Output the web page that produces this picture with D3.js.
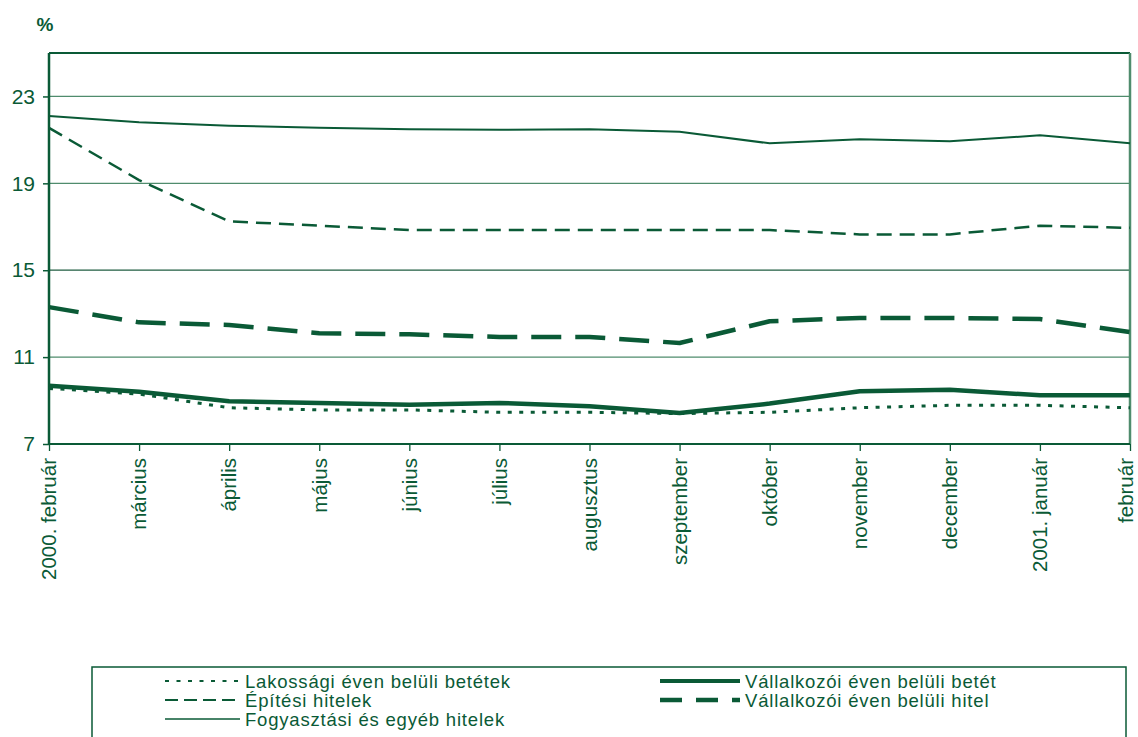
<!DOCTYPE html>
<html>
<head>
<meta charset="utf-8">
<script src="https://cdn.jsdelivr.net/npm/d3@7"></script>
<style>
  html, body { margin: 0; padding: 0; background: #fff; }
  svg { display: block; font-family: "Liberation Sans", Arial, sans-serif; }
</style>
</head>
<body>
<svg id="chart" width="1138" height="737"></svg>
<script>
const months = ["2000. február", "március", "április", "május", "június", "július",
  "augusztus", "szeptember", "október", "november", "december", "2001. január", "február"];

const lakossagi = [9.56, 9.3, 8.67, 8.57, 8.57, 8.46, 8.46, 8.4, 8.46, 8.67, 8.78, 8.78, 8.67];
const epitesi = [21.55, 19.15, 17.25, 17.05, 16.85, 16.85, 16.85, 16.85, 16.85, 16.65, 16.65, 17.05, 16.95];
const fogyasztasi = [22.1, 21.81, 21.65, 21.56, 21.49, 21.47, 21.49, 21.38, 20.84, 21.03, 20.94, 21.21, 20.84];
const vallBetet = [9.68, 9.41, 8.97, 8.89, 8.81, 8.89, 8.74, 8.43, 8.86, 9.43, 9.5, 9.24, 9.24];
const vallHitel = [13.3, 12.6, 12.48, 12.1, 12.05, 11.93, 11.93, 11.65, 12.65, 12.8, 12.8, 12.75, 12.15];

const yTicks = [7, 11, 15, 19, 23];
const yDomain = [7, 25];

const green = "#0a5a36";
const gridColor = "#4f8c6d";

const svg = d3.select("#chart");
const mLeft = 49, mRight = 1130, mTop = 53, mBottom = 444;

const x = d3.scalePoint().domain(months).range([mLeft, mRight]);
const y = d3.scaleLinear().domain(yDomain).range([mBottom, mTop]);

// gridlines
svg.append("g").selectAll("line").data(yTicks.filter(d => d > 7)).join("line")
  .attr("x1", mLeft).attr("x2", mRight)
  .attr("y1", d => y(d)).attr("y2", d => y(d))
  .attr("stroke", d => d === 15 ? "#1f5c40" : gridColor).attr("stroke-width", 1.3);

// frame top/right
svg.append("line").attr("x1", mLeft).attr("x2", mRight).attr("y1", mTop).attr("y2", mTop)
  .attr("stroke", green).attr("stroke-width", 2);
svg.append("line").attr("x1", mRight).attr("x2", mRight).attr("y1", mTop).attr("y2", mBottom)
  .attr("stroke", gridColor).attr("stroke-width", 2.5);

// y axis
const yAxis = d3.axisLeft(y).tickValues(yTicks).tickSize(6).tickPadding(8).tickFormat(d3.format("d"));
const gy = svg.append("g").attr("transform", `translate(${mLeft},0)`).call(yAxis);
gy.select(".domain").attr("stroke", green).attr("stroke-width", 2.5).attr("d", `M0,${mTop}V${mBottom}`);
gy.selectAll(".tick line").attr("stroke", green).attr("stroke-width", 1.5);
gy.selectAll(".tick text").attr("fill", green).attr("font-size", 21)
  .attr("font-family", "Liberation Sans, Arial, sans-serif");

// x axis
const xAxis = d3.axisBottom(x).tickSize(7).tickPadding(8);
const gx = svg.append("g").attr("transform", `translate(0,${mBottom})`).call(xAxis);
gx.select(".domain").attr("stroke", green).attr("stroke-width", 2).attr("d", `M${mLeft},0H${mRight}`);
gx.selectAll(".tick line").attr("stroke", green).attr("stroke-width", 1.3);
gx.selectAll(".tick text")
  .attr("fill", green).attr("font-size", 20.5)
  .attr("font-family", "Liberation Sans, Arial, sans-serif")
  .attr("text-anchor", "end")
  .attr("transform", "rotate(-90)")
  .attr("x", -14).attr("y", (d, i) => i === months.length - 1 ? -4 : 0).attr("dy", "0.33em");

// "%" label
svg.append("text").attr("x", 45).attr("y", 31).attr("text-anchor", "middle")
  .attr("font-size", 19).attr("font-weight", "bold").attr("fill", green).text("%");

const series = [
  { name: "Lakossági éven belüli betétek", values: lakossagi, width: 3, dash: "4,7.5" },
  { name: "Építési hitelek", values: epitesi, width: 2.5, dash: "15,8" },
  { name: "Fogyasztási és egyéb hitelek", values: fogyasztasi, width: 2, dash: null },
  { name: "Vállalkozói éven belüli betét", values: vallBetet, width: 4.5, dash: null },
  { name: "Vállalkozói éven belüli hitel", values: vallHitel, width: 4.5, dash: "30,14" }
];

const line = d3.line().x((d, i) => x(months[i])).y(d => y(d));

svg.append("g").selectAll("path").data(series).join("path")
  .attr("d", s => line(s.values))
  .attr("fill", "none").attr("stroke", green)
  .attr("stroke-width", s => s.width)
  .attr("stroke-dasharray", s => s.dash)
  .attr("stroke-linejoin", "round");

// legend
const lg = svg.append("g");
lg.append("rect").attr("x", 92).attr("y", 667).attr("width", 1034).attr("height", 90)
  .attr("fill", "none").attr("stroke", green).attr("stroke-width", 1.5);

const legendPos = [
  { s: series[0], x1: 165, x2: 240, tx: 245, cy: 681 },
  { s: series[1], x1: 165, x2: 240, tx: 245, cy: 700 },
  { s: series[2], x1: 165, x2: 240, tx: 245, cy: 719 },
  { s: series[3], x1: 660, x2: 740, tx: 745, cy: 681 },
  { s: series[4], x1: 660, x2: 740, tx: 745, cy: 700 }
];
const legendDash = ["4,7.5", "13,6", null, null, "22,14"];
const legendWidth = [2, 2, 1.5, 4, 4.5];

legendPos.forEach((p, i) => {
  lg.append("line").attr("x1", p.x1).attr("x2", p.x2).attr("y1", p.cy).attr("y2", p.cy)
    .attr("stroke", green).attr("stroke-width", legendWidth[i])
    .attr("stroke-dasharray", legendDash[i]);
  lg.append("text").attr("x", p.tx).attr("y", p.cy).attr("dy", "0.36em")
    .attr("font-size", 18.5).attr("letter-spacing", 0.8).attr("fill", green).text(p.s.name);
});
</script>
</body>
</html>
